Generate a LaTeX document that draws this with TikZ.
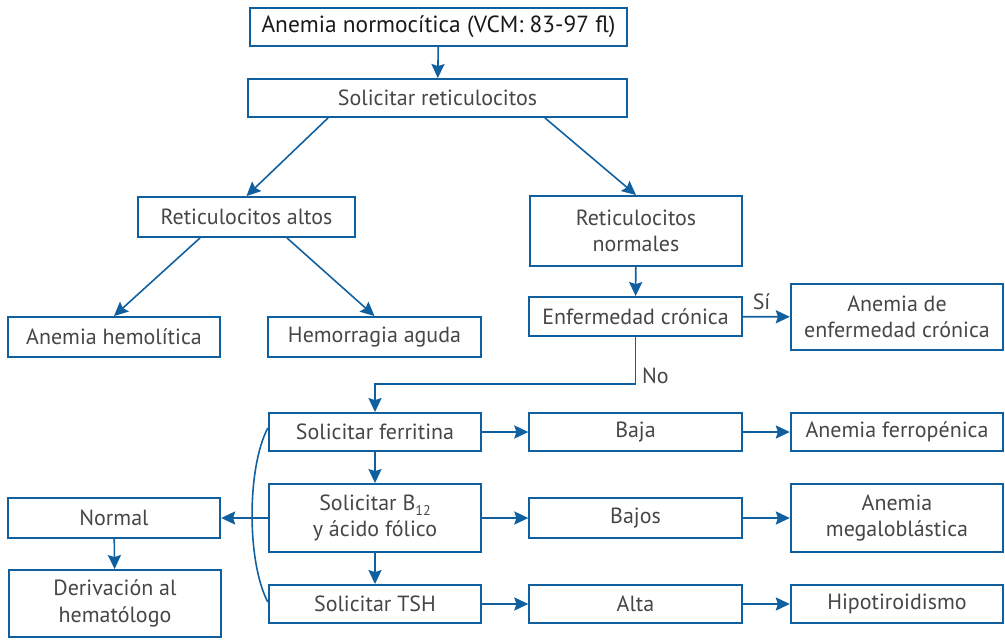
\documentclass[tikz,border=0pt]{standalone}
\usepackage{fontspec}
\setmainfont{PT Sans}
\usetikzlibrary{arrows.meta}
\definecolor{flowblue}{RGB}{16,96,160}
\definecolor{flowtext}{RGB}{70,70,70}
\tikzset{
  box/.style={draw=flowblue, line width=1.1pt, text=flowtext, align=center,
    inner sep=1pt, font=\fontsize{12.5}{15}\selectfont,
    minimum width=4.25cm, minimum height=0.78cm},
  tall/.style={minimum height=1.36cm},
  arr/.style={draw=flowblue, line width=0.9pt, -{Stealth[length=8pt,width=7.5pt,inset=1.2pt]}},
  lbl/.style={text=flowtext, font=\fontsize{12.5}{15}\selectfont},
}
\begin{document}
\begin{tikzpicture}[x=0.02cm, y=-0.02cm]
      \useasboundingbox (0,0) rectangle (1005,640);
      \node[box, minimum width=7.55cm, minimum height=0.76cm, text=black!90, font=\fontsize{13.3}{16}\selectfont] (top) at (438.5,27) {Anemia normocítica (VCM: 83-97 fl)};
      \node[box, minimum width=7.58cm, minimum height=0.76cm] (sol) at (437.5,98) {Solicitar reticulocitos};
      \node[box, minimum width=4.34cm, minimum height=0.8cm] (altos) at (246.5,217) {Reticulocitos altos};
      \node[box, tall, minimum height=1.4cm] (normales) at (636,231) {Reticulocitos\\normales};
      \node[box, minimum height=0.8cm] (hemol) at (114,337) {Anemia hemolítica};
      \node[box, minimum height=0.8cm] (hemorr) at (374.5,337) {Hemorragia aguda};
      \node[box] (enf) at (635.5,316.5) {Enfermedad crónica};
      \node[box, tall, minimum height=1.32cm] (anenf) at (897,317) {Anemia de\\enfermedad crónica};
      \node[box, minimum height=0.76cm] (ferr) at (375,432) {Solicitar ferritina};
      \node[box, minimum height=0.76cm] (baja) at (635.5,432) {Baja};
      \node[box, minimum height=0.76cm] (ferrop) at (897,432) {Anemia ferropénica};
      \node[box, tall] (b12) at (375,518) {Solicitar B\raisebox{-0.45ex}{\fontsize{8}{9}\selectfont 12}\\y ácido fólico};
      \node[box, minimum height=0.8cm] (bajos) at (635.5,518) {Bajos};
      \node[box, tall] (megalo) at (897,518) {Anemia\\megaloblástica};
      \node[box, minimum height=0.8cm] (normal) at (114,518) {Normal};
      \node[box, tall, minimum height=1.34cm] (deriv) at (115,603.5) {Derivación al\\hematólogo};
      \node[box, minimum height=0.76cm] (tsh) at (375,604) {Solicitar TSH};
      \node[box, minimum height=0.76cm] (alta) at (635.5,604) {Alta};
      \node[box, minimum height=0.76cm] (hipo) at (897,604) {Hipotiroidismo};
      \draw[arr] (top) -- (sol);
      \draw[arr] ([xshift=-2.19cm]sol.south) -- (altos.north);
      \draw[arr] ([xshift=2.15cm]sol.south) -- (normales.north);
      \draw[arr] ([xshift=-0.93cm]altos.south) -- (hemol.north);
      \draw[arr] ([xshift=0.81cm]altos.south) -- (hemorr.north);
      \draw[arr] (normales) -- (enf);
      \draw[arr] (enf) -- (anenf) node[pos=0.4, above, lbl] {Sí};
      \draw[arr] (enf.south) -- ++(0,47) node[pos=0.83, right, lbl] {No} -| (ferr.north);
      \draw[arr] (ferr) -- (baja);
      \draw[arr] (baja) -- (ferrop);
      \draw[arr] (ferr) -- (b12);
      \draw[arr] (b12) -- (bajos);
      \draw[arr] (bajos) -- (megalo);
      \draw[arr] (b12) -- (tsh);
      \draw[arr] (tsh) -- (alta);
      \draw[arr] (alta) -- (hipo);
      \draw[arr] (b12.west) -- (normal.east);
      \draw[arr] (normal) -- (deriv);
      \draw[flowblue, line width=0.9pt] ([yshift=0.08cm]ferr.west) .. controls +(-21,40) and +(-21,-40) .. ([yshift=0.04cm]tsh.west);
   \end{tikzpicture}
\end{document}
